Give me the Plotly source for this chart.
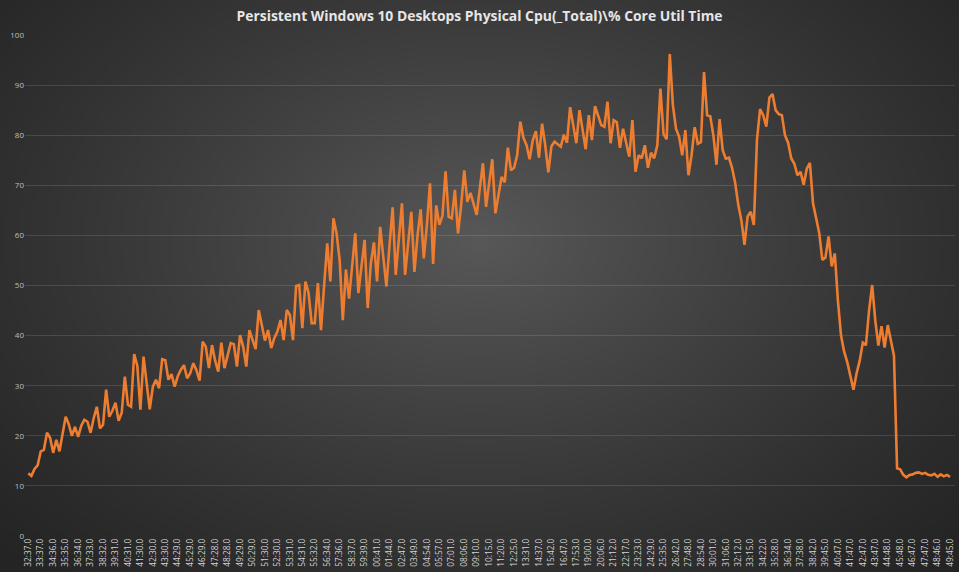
import base64, struct, zlib
import numpy as np
import plotly.graph_objects as go

# ---------------- data ----------------
cpu_util = [
    12.5, 12.0, 13.4, 14.1, 16.9, 17.2, 20.6, 19.6, 16.6, 19.2,
    16.9, 20.5, 23.8, 22.3, 20.0, 21.8, 19.8, 22.0, 23.2, 22.8,
    20.6, 23.5, 25.8, 21.5, 22.2, 29.2, 23.8, 25.0, 26.6, 23.0,
    24.6, 31.8, 26.2, 25.8, 36.3, 34.0, 25.2, 35.8, 30.5, 25.3,
    29.8, 31.2, 29.5, 35.3, 35.1, 31.2, 32.3, 29.8, 31.9, 33.2,
    34.1, 31.5, 32.5, 34.5, 33.1, 31.0, 38.8, 37.8, 33.5, 38.1,
    35.0, 32.8, 38.6, 33.5, 36.0, 38.5, 38.3, 33.8, 40.1, 37.8,
    33.8, 41.1, 39.2, 37.3, 45.1, 42.0, 39.0, 41.1, 37.5, 39.5,
    40.8, 43.1, 39.1, 45.1, 44.1, 39.1, 49.9, 50.1, 41.5, 50.8,
    48.5, 42.5, 42.5, 50.5, 41.1, 50.0, 58.4, 50.8, 63.4, 60.4,
    55.0, 43.1, 53.2, 47.4, 54.0, 60.4, 48.5, 54.0, 59.1, 45.5,
    54.4, 58.6, 50.8, 61.7, 56.0, 49.8, 58.0, 65.6, 52.1, 59.0,
    66.4, 52.1, 58.0, 64.7, 52.7, 60.0, 65.2, 55.4, 62.0, 70.4,
    54.3, 66.0, 62.1, 63.9, 72.8, 63.7, 63.4, 69.1, 60.4, 66.0,
    73.0, 66.7, 68.5, 66.0, 64.1, 69.4, 74.4, 65.7, 70.0, 75.2,
    64.4, 68.0, 71.7, 70.6, 77.5, 73.0, 73.5, 76.0, 82.7, 79.5,
    78.0, 75.2, 79.0, 80.8, 75.5, 82.3, 78.0, 72.6, 77.8, 78.7,
    78.2, 77.7, 80.1, 78.5, 85.6, 82.0, 78.4, 85.0, 81.0, 77.2,
    84.0, 79.0, 85.8, 84.0, 82.0, 81.7, 86.7, 78.4, 83.0, 82.6,
    77.5, 81.3, 78.5, 75.7, 83.0, 72.7, 76.0, 75.4, 78.0, 73.5,
    76.5, 75.4, 78.0, 89.3, 80.2, 79.2, 96.2, 86.0, 81.3, 79.7,
    76.0, 81.0, 72.0, 76.0, 81.6, 78.3, 78.6, 92.6, 84.0, 83.8,
    80.0, 74.1, 83.2, 77.0, 75.3, 75.5, 73.5, 70.5, 66.1, 63.0,
    58.1, 63.8, 64.7, 62.1, 79.0, 85.2, 84.0, 81.7, 87.5, 88.2,
    85.0, 84.2, 84.0, 80.0, 78.5, 75.4, 74.3, 72.0, 72.7, 70.1,
    73.3, 74.5, 66.4, 63.5, 60.5, 55.1, 55.6, 59.8, 53.8, 56.4,
    47.0, 40.0, 36.8, 34.7, 32.0, 29.2, 32.5, 35.0, 38.6, 38.1,
    45.0, 50.1, 43.0, 38.0, 41.9, 37.6, 42.1, 38.8, 36.0, 13.5,
    13.3, 12.2, 11.7, 12.2, 12.3, 12.6, 12.7, 12.4, 12.6, 12.2,
    12.1, 12.4, 11.8, 12.3, 11.9, 12.2, 11.8,
]

time_labels = [
    "32:37.0", "33:37.0", "34:36.0", "35:35.0", "36:34.0", "37:33.0", "38:32.0", "39:31.0",
    "40:31.0", "41:30.0", "42:30.0", "43:30.0", "44:29.0", "45:29.0", "46:29.0", "47:28.0",
    "48:28.0", "49:29.0", "50:29.0", "51:30.0", "52:30.0", "53:31.0", "54:31.0", "55:32.0",
    "56:34.0", "57:36.0", "58:37.0", "59:39.0", "00:41.0", "01:44.0", "02:47.0", "03:49.0",
    "04:54.0", "05:57.0", "07:01.0", "08:06.0", "09:10.0", "10:15.0", "11:20.0", "12:25.0",
    "13:31.0", "14:37.0", "15:42.0", "16:47.0", "17:53.0", "19:00.0", "20:06.0", "21:12.0",
    "22:17.0", "23:23.0", "24:29.0", "25:35.0", "26:42.0", "27:48.0", "28:54.0", "30:01.0",
    "31:06.0", "32:12.0", "33:15.0", "34:22.0", "35:28.0", "36:34.0", "37:38.0", "38:42.0",
    "39:45.0", "40:47.0", "41:47.0", "42:47.0", "43:47.0", "44:48.0", "45:48.0", "46:47.0",
    "47:47.0", "48:46.0", "49:45.0",
]
samples_per_label = 4
y_ticks = list(range(0, 101, 10))
title_text = "Persistent Windows 10 Desktops Physical Cpu(_Total)\\% Core Util Time"

# ---------------- layout constants ----------------
W, H = 959, 572
ML, MR, MT, MB = 25, 4, 35, 36
PW, PH = W - ML - MR, H - MT - MB


def radial_background(w=320, h=191):
    yy, xx = np.mgrid[0:h, 0:w]
    dx = (xx / (w - 1) - 0.5) / 0.5
    dy = (yy / (h - 1) - 0.42) / 0.58
    r = np.clip(np.sqrt(dx ** 2 + dy ** 2) / np.sqrt(2), 0, 1)
    val = 36 + 52 * (1 - r) ** 1.2
    arr = np.clip(val, 0, 255).astype(np.uint8)
    raw = b"".join(b"\x00" + row.tobytes() for row in arr)

    def chunk(t, d):
        return struct.pack(">I", len(d)) + t + d + struct.pack(">I", zlib.crc32(t + d) & 0xFFFFFFFF)

    png = (b"\x89PNG\r\n\x1a\n"
           + chunk(b"IHDR", struct.pack(">IIBBBBB", w, h, 8, 0, 0, 0, 0))
           + chunk(b"IDAT", zlib.compress(raw, 9))
           + chunk(b"IEND", b""))
    return "data:image/png;base64," + base64.b64encode(png).decode()


x_idx = list(range(len(cpu_util)))
tick_idx = [i * samples_per_label for i in range(len(time_labels))]

fig = go.Figure()
fig.add_trace(go.Scatter(
    x=x_idx, y=cpu_util, mode="lines",
    line=dict(color="#ED7D31", width=2.6),
    hoverinfo="skip", showlegend=False,
))

fig.update_layout(
    width=W, height=H,
    margin=dict(l=ML, r=MR, t=MT, b=MB, pad=0),
    paper_bgcolor="#333333",
    plot_bgcolor="rgba(0,0,0,0)",
    title=dict(text="<b>" + title_text + "</b>", x=0.5, xanchor="center",
               y=1 - 16 / H, yanchor="middle",
               font=dict(family="Open Sans", size=13.9, color="#E6E6E6")),
    images=[dict(source=radial_background(), xref="paper", yref="paper",
                 x=-ML / PW, y=1 + MT / PH, sizex=W / PW, sizey=H / PH,
                 xanchor="left", yanchor="top", sizing="stretch", layer="below")],
    xaxis=dict(
        range=[-1.06, len(cpu_util) - 1 + 1.6],
        tickmode="array", tickvals=tick_idx, ticktext=time_labels,
        tickangle=-90, tickfont=dict(family="Open Sans", size=8.3, color="#D4D4D4"),
        showgrid=False, zeroline=False, showline=False, ticks="",
    ),
    yaxis=dict(
        range=[0, 100], tickmode="array", tickvals=y_ticks,
        tickfont=dict(family="Open Sans", size=8, color="#BFBFBF"),
        showgrid=True, gridcolor="rgba(255,255,255,0.12)", gridwidth=1,
        zeroline=False, showline=False, ticks="",
    ),
)

fig.write_html("out.html")
